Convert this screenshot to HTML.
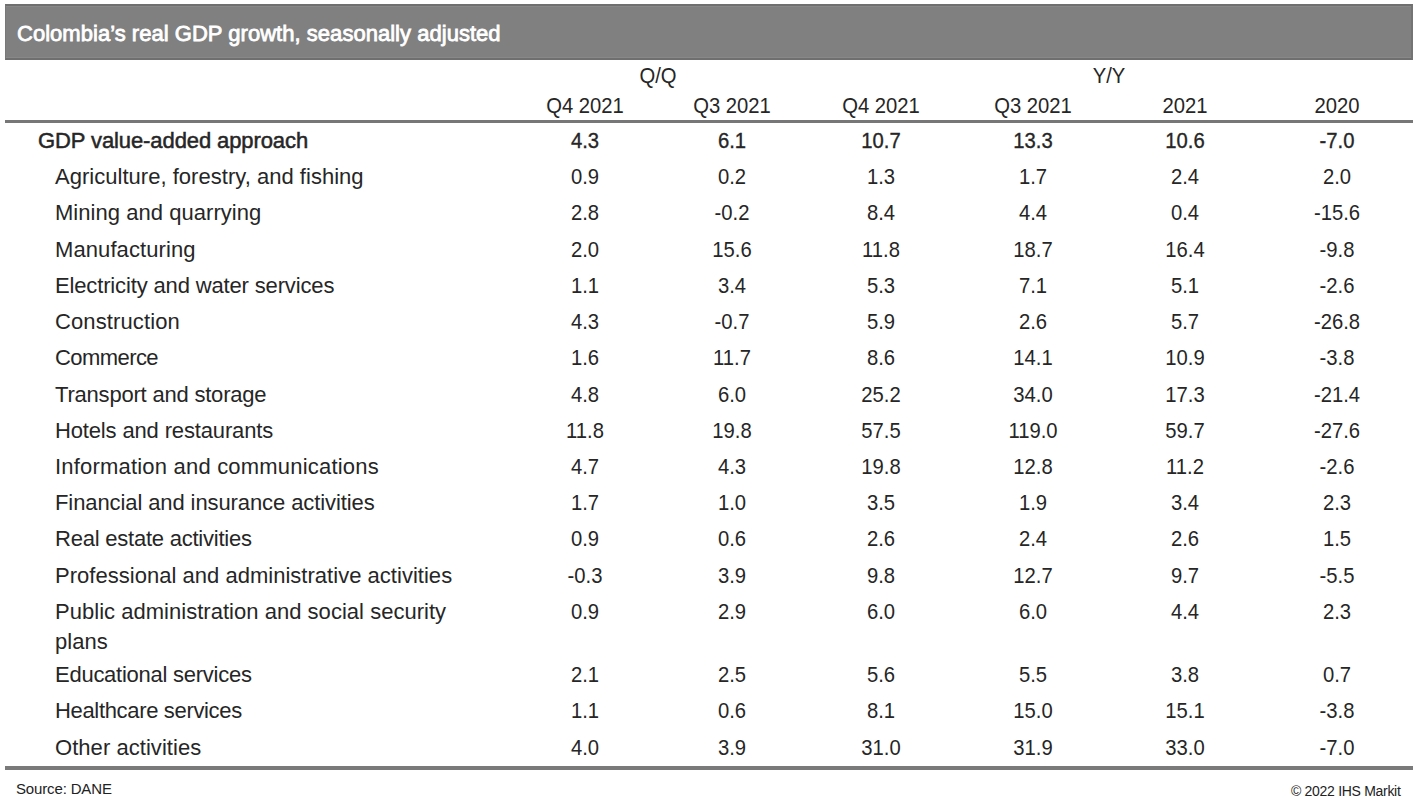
<!DOCTYPE html>
<html><head><meta charset="utf-8"><style>
html,body{margin:0;padding:0;background:#fff;width:1416px;height:804px;overflow:hidden;position:relative}
body{font-family:"Liberation Sans",sans-serif;color:#262626}
.a{position:absolute;white-space:nowrap;line-height:30px;font-size:22px}
.n{width:150px;text-align:center;transform:scaleX(0.92);transform-origin:50% 50%}
.b{-webkit-text-stroke:0.35px #262626}
.lbl{left:55px;letter-spacing:0.05px}
.lb0{left:38px;-webkit-text-stroke:0.5px #262626;letter-spacing:-0.04px}
#banner{position:absolute;left:5px;top:4px;width:1408px;height:56px;box-sizing:border-box;background:#808080;border-top:2px solid #6f6f6f;border-bottom:2px solid #6f6f6f;border-left:1px solid #787878;border-right:2px solid #747474;box-shadow:inset 0 1px 0 #888,inset 0 -1px 0 #888}
#title{position:absolute;left:17px;top:19px;font-size:22px;line-height:30px;color:#fff;-webkit-text-stroke:0.8px #fff;letter-spacing:0.03px;white-space:nowrap}
.rule{position:absolute;left:5px;width:1408px;background:#777}
.foot{position:absolute;white-space:nowrap;color:#222}
</style></head><body>
<div id="banner"></div>
<div id="title">Colombia’s real GDP growth, seasonally adjusted</div>

<div class="a n" style="left:583.25px;top:61px">Q/Q</div>
<div class="a n" style="left:1034.0px;top:61px">Y/Y</div>
<div class="a n" style="left:510.0px;top:91px">Q4 2021</div>
<div class="a n" style="left:656.5px;top:91px">Q3 2021</div>
<div class="a n" style="left:806.0px;top:91px">Q4 2021</div>
<div class="a n" style="left:958.0px;top:91px">Q3 2021</div>
<div class="a n" style="left:1110.0px;top:91px">2021</div>
<div class="a n" style="left:1262.0px;top:91px">2020</div>
<div class="rule" style="top:120px;height:3px"></div>
<div class="a lb0" style="top:126px;letter-spacing:-0.096px">GDP value-added approach</div>
<div class="a n b" style="left:510.0px;top:126px">4.3</div>
<div class="a n b" style="left:656.5px;top:126px">6.1</div>
<div class="a n b" style="left:806.0px;top:126px">10.7</div>
<div class="a n b" style="left:958.0px;top:126px">13.3</div>
<div class="a n b" style="left:1110.0px;top:126px">10.6</div>
<div class="a n b" style="left:1262.0px;top:126px">-7.0</div>
<div class="a lbl" style="top:162px;letter-spacing:0.026px">Agriculture, forestry, and fishing</div>
<div class="a n" style="left:510.0px;top:162px">0.9</div>
<div class="a n" style="left:656.5px;top:162px">0.2</div>
<div class="a n" style="left:806.0px;top:162px">1.3</div>
<div class="a n" style="left:958.0px;top:162px">1.7</div>
<div class="a n" style="left:1110.0px;top:162px">2.4</div>
<div class="a n" style="left:1262.0px;top:162px">2.0</div>
<div class="a lbl" style="top:198px;letter-spacing:0.045px">Mining and quarrying</div>
<div class="a n" style="left:510.0px;top:198px">2.8</div>
<div class="a n" style="left:656.5px;top:198px">-0.2</div>
<div class="a n" style="left:806.0px;top:198px">8.4</div>
<div class="a n" style="left:958.0px;top:198px">4.4</div>
<div class="a n" style="left:1110.0px;top:198px">0.4</div>
<div class="a n" style="left:1262.0px;top:198px">-15.6</div>
<div class="a lbl" style="top:235px;letter-spacing:0.088px">Manufacturing</div>
<div class="a n" style="left:510.0px;top:235px">2.0</div>
<div class="a n" style="left:656.5px;top:235px">15.6</div>
<div class="a n" style="left:806.0px;top:235px">11.8</div>
<div class="a n" style="left:958.0px;top:235px">18.7</div>
<div class="a n" style="left:1110.0px;top:235px">16.4</div>
<div class="a n" style="left:1262.0px;top:235px">-9.8</div>
<div class="a lbl" style="top:271px;letter-spacing:-0.147px">Electricity and water services</div>
<div class="a n" style="left:510.0px;top:271px">1.1</div>
<div class="a n" style="left:656.5px;top:271px">3.4</div>
<div class="a n" style="left:806.0px;top:271px">5.3</div>
<div class="a n" style="left:958.0px;top:271px">7.1</div>
<div class="a n" style="left:1110.0px;top:271px">5.1</div>
<div class="a n" style="left:1262.0px;top:271px">-2.6</div>
<div class="a lbl" style="top:307px;letter-spacing:0.117px">Construction</div>
<div class="a n" style="left:510.0px;top:307px">4.3</div>
<div class="a n" style="left:656.5px;top:307px">-0.7</div>
<div class="a n" style="left:806.0px;top:307px">5.9</div>
<div class="a n" style="left:958.0px;top:307px">2.6</div>
<div class="a n" style="left:1110.0px;top:307px">5.7</div>
<div class="a n" style="left:1262.0px;top:307px">-26.8</div>
<div class="a lbl" style="top:343px;letter-spacing:-0.575px">Commerce</div>
<div class="a n" style="left:510.0px;top:343px">1.6</div>
<div class="a n" style="left:656.5px;top:343px">11.7</div>
<div class="a n" style="left:806.0px;top:343px">8.6</div>
<div class="a n" style="left:958.0px;top:343px">14.1</div>
<div class="a n" style="left:1110.0px;top:343px">10.9</div>
<div class="a n" style="left:1262.0px;top:343px">-3.8</div>
<div class="a lbl" style="top:380px;letter-spacing:-0.203px">Transport and storage</div>
<div class="a n" style="left:510.0px;top:380px">4.8</div>
<div class="a n" style="left:656.5px;top:380px">6.0</div>
<div class="a n" style="left:806.0px;top:380px">25.2</div>
<div class="a n" style="left:958.0px;top:380px">34.0</div>
<div class="a n" style="left:1110.0px;top:380px">17.3</div>
<div class="a n" style="left:1262.0px;top:380px">-21.4</div>
<div class="a lbl" style="top:416px;letter-spacing:-0.150px">Hotels and restaurants</div>
<div class="a n" style="left:510.0px;top:416px">11.8</div>
<div class="a n" style="left:656.5px;top:416px">19.8</div>
<div class="a n" style="left:806.0px;top:416px">57.5</div>
<div class="a n" style="left:958.0px;top:416px">119.0</div>
<div class="a n" style="left:1110.0px;top:416px">59.7</div>
<div class="a n" style="left:1262.0px;top:416px">-27.6</div>
<div class="a lbl" style="top:452px;letter-spacing:0.197px">Information and communications</div>
<div class="a n" style="left:510.0px;top:452px">4.7</div>
<div class="a n" style="left:656.5px;top:452px">4.3</div>
<div class="a n" style="left:806.0px;top:452px">19.8</div>
<div class="a n" style="left:958.0px;top:452px">12.8</div>
<div class="a n" style="left:1110.0px;top:452px">11.2</div>
<div class="a n" style="left:1262.0px;top:452px">-2.6</div>
<div class="a lbl" style="top:488px;letter-spacing:-0.097px">Financial and insurance activities</div>
<div class="a n" style="left:510.0px;top:488px">1.7</div>
<div class="a n" style="left:656.5px;top:488px">1.0</div>
<div class="a n" style="left:806.0px;top:488px">3.5</div>
<div class="a n" style="left:958.0px;top:488px">1.9</div>
<div class="a n" style="left:1110.0px;top:488px">3.4</div>
<div class="a n" style="left:1262.0px;top:488px">2.3</div>
<div class="a lbl" style="top:524px;letter-spacing:-0.227px">Real estate activities</div>
<div class="a n" style="left:510.0px;top:524px">0.9</div>
<div class="a n" style="left:656.5px;top:524px">0.6</div>
<div class="a n" style="left:806.0px;top:524px">2.6</div>
<div class="a n" style="left:958.0px;top:524px">2.4</div>
<div class="a n" style="left:1110.0px;top:524px">2.6</div>
<div class="a n" style="left:1262.0px;top:524px">1.5</div>
<div class="a lbl" style="top:561px;letter-spacing:0.023px">Professional and administrative activities</div>
<div class="a n" style="left:510.0px;top:561px">-0.3</div>
<div class="a n" style="left:656.5px;top:561px">3.9</div>
<div class="a n" style="left:806.0px;top:561px">9.8</div>
<div class="a n" style="left:958.0px;top:561px">12.7</div>
<div class="a n" style="left:1110.0px;top:561px">9.7</div>
<div class="a n" style="left:1262.0px;top:561px">-5.5</div>
<div class="a lbl" style="top:597px;letter-spacing:0.026px">Public administration and social security<br>plans</div>
<div class="a n" style="left:510.0px;top:597px">0.9</div>
<div class="a n" style="left:656.5px;top:597px">2.9</div>
<div class="a n" style="left:806.0px;top:597px">6.0</div>
<div class="a n" style="left:958.0px;top:597px">6.0</div>
<div class="a n" style="left:1110.0px;top:597px">4.4</div>
<div class="a n" style="left:1262.0px;top:597px">2.3</div>
<div class="a lbl" style="top:660px;letter-spacing:-0.255px">Educational services</div>
<div class="a n" style="left:510.0px;top:660px">2.1</div>
<div class="a n" style="left:656.5px;top:660px">2.5</div>
<div class="a n" style="left:806.0px;top:660px">5.6</div>
<div class="a n" style="left:958.0px;top:660px">5.5</div>
<div class="a n" style="left:1110.0px;top:660px">3.8</div>
<div class="a n" style="left:1262.0px;top:660px">0.7</div>
<div class="a lbl" style="top:696px;letter-spacing:-0.334px">Healthcare services</div>
<div class="a n" style="left:510.0px;top:696px">1.1</div>
<div class="a n" style="left:656.5px;top:696px">0.6</div>
<div class="a n" style="left:806.0px;top:696px">8.1</div>
<div class="a n" style="left:958.0px;top:696px">15.0</div>
<div class="a n" style="left:1110.0px;top:696px">15.1</div>
<div class="a n" style="left:1262.0px;top:696px">-3.8</div>
<div class="a lbl" style="top:733px;letter-spacing:0.050px">Other activities</div>
<div class="a n" style="left:510.0px;top:733px">4.0</div>
<div class="a n" style="left:656.5px;top:733px">3.9</div>
<div class="a n" style="left:806.0px;top:733px">31.0</div>
<div class="a n" style="left:958.0px;top:733px">31.9</div>
<div class="a n" style="left:1110.0px;top:733px">33.0</div>
<div class="a n" style="left:1262.0px;top:733px">-7.0</div>
<div class="rule" style="top:766px;height:4px;background:#7a7a7a"></div>
<div class="foot" style="left:16px;top:779px;font-size:15px;line-height:20px;letter-spacing:-0.15px">Source: DANE</div>
<div class="foot" style="left:1291px;top:781px;font-size:14px;line-height:20px;letter-spacing:-0.3px">© 2022 IHS Markit</div>
</body></html>
